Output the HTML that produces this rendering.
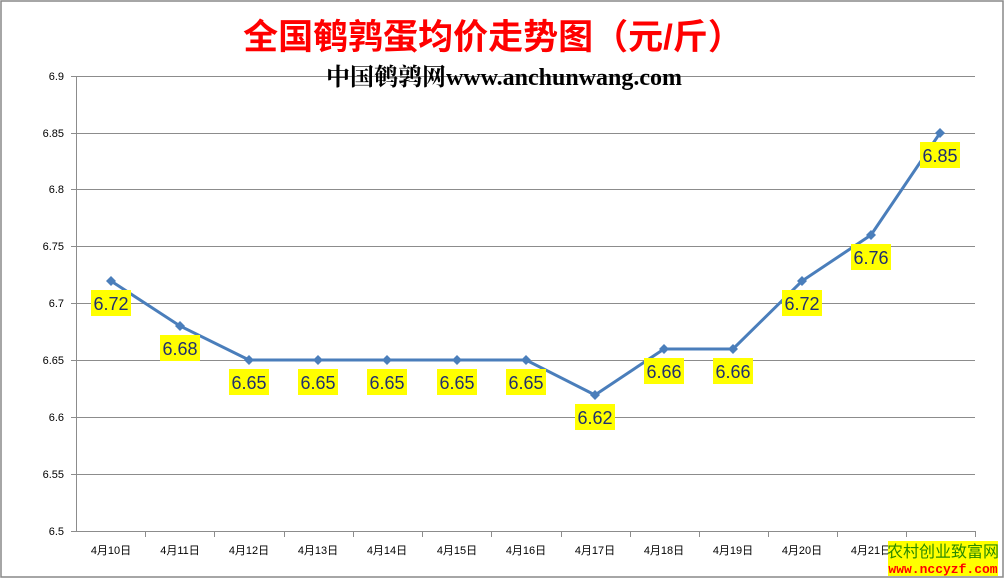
<!DOCTYPE html>
<html><head><meta charset="utf-8"><style>
body{margin:0;background:#fff}
svg{display:block}
</style></head><body>
<svg width="1005" height="579" xmlns="http://www.w3.org/2000/svg" font-family="Liberation Sans, Noto Sans CJK SC, sans-serif">
<rect x="1" y="1" width="1002" height="576" fill="#fff" stroke="#888" stroke-width="1.5"/>
<g stroke="#8c8c8c" stroke-width="1">
<line x1="76" y1="76.5" x2="975" y2="76.5"/>
<line x1="76" y1="133.5" x2="975" y2="133.5"/>
<line x1="76" y1="189.5" x2="975" y2="189.5"/>
<line x1="76" y1="246.5" x2="975" y2="246.5"/>
<line x1="76" y1="303.5" x2="975" y2="303.5"/>
<line x1="76" y1="360.5" x2="975" y2="360.5"/>
<line x1="76" y1="417.5" x2="975" y2="417.5"/>
<line x1="76" y1="474.5" x2="975" y2="474.5"/>
<line x1="76" y1="531.5" x2="975" y2="531.5"/>
<line x1="76.5" y1="76" x2="76.5" y2="531"/>
<line x1="71" y1="76.5" x2="76" y2="76.5"/><line x1="71" y1="133.5" x2="76" y2="133.5"/><line x1="71" y1="189.5" x2="76" y2="189.5"/><line x1="71" y1="246.5" x2="76" y2="246.5"/><line x1="71" y1="303.5" x2="76" y2="303.5"/><line x1="71" y1="360.5" x2="76" y2="360.5"/><line x1="71" y1="417.5" x2="76" y2="417.5"/><line x1="71" y1="474.5" x2="76" y2="474.5"/><line x1="71" y1="531.5" x2="76" y2="531.5"/>
</g>
<g stroke="#8c8c8c">
<line x1="145.5" y1="531" x2="145.5" y2="537"/><line x1="214.5" y1="531" x2="214.5" y2="537"/><line x1="284.5" y1="531" x2="284.5" y2="537"/><line x1="353.5" y1="531" x2="353.5" y2="537"/><line x1="422.5" y1="531" x2="422.5" y2="537"/><line x1="491.5" y1="531" x2="491.5" y2="537"/><line x1="561.5" y1="531" x2="561.5" y2="537"/><line x1="630.5" y1="531" x2="630.5" y2="537"/><line x1="699.5" y1="531" x2="699.5" y2="537"/><line x1="768.5" y1="531" x2="768.5" y2="537"/><line x1="837.5" y1="531" x2="837.5" y2="537"/><line x1="906.5" y1="531" x2="906.5" y2="537"/><line x1="975.5" y1="531" x2="975.5" y2="537"/>
</g>
<g font-size="11" fill="#000" text-anchor="end">
<text x="64" y="80">6.9</text><text x="64" y="137">6.85</text><text x="64" y="193">6.8</text><text x="64" y="250">6.75</text><text x="64" y="307">6.7</text><text x="64" y="364">6.65</text><text x="64" y="421">6.6</text><text x="64" y="478">6.55</text><text x="64" y="535">6.5</text>
</g>
<g font-size="11" fill="#000" text-anchor="middle">
<text x="111" y="554">4月10日</text><text x="180" y="554">4月11日</text><text x="249" y="554">4月12日</text><text x="318" y="554">4月13日</text><text x="387" y="554">4月14日</text><text x="457" y="554">4月15日</text><text x="526" y="554">4月16日</text><text x="595" y="554">4月17日</text><text x="664" y="554">4月18日</text><text x="733" y="554">4月19日</text><text x="802" y="554">4月20日</text><text x="871" y="554">4月21日</text>
</g>
<text x="493" y="49" font-size="35" font-weight="bold" fill="#ff0000" text-anchor="middle">全国鹌鹑蛋均价走势图（元/斤）</text>
<text x="504" y="85" font-size="24" font-weight="bold" fill="#000" text-anchor="middle" font-family="Liberation Serif, Noto Serif CJK SC, serif">中国鹌鹑网www.anchunwang.com</text>
<polyline fill="none" stroke="#4a7ebb" stroke-width="3" points="111,281 180,326 249,360 318,360 387,360 457,360 526,360 595,395 664,349 733,349 802,281 871,235 940,133"/>
<g fill="#4a7ebb">
<path d="M111,276l5,5l-5,5l-5,-5z"/><path d="M180,321l5,5l-5,5l-5,-5z"/><path d="M249,355l5,5l-5,5l-5,-5z"/><path d="M318,355l5,5l-5,5l-5,-5z"/><path d="M387,355l5,5l-5,5l-5,-5z"/><path d="M457,355l5,5l-5,5l-5,-5z"/><path d="M526,355l5,5l-5,5l-5,-5z"/><path d="M595,390l5,5l-5,5l-5,-5z"/><path d="M664,344l5,5l-5,5l-5,-5z"/><path d="M733,344l5,5l-5,5l-5,-5z"/><path d="M802,276l5,5l-5,5l-5,-5z"/><path d="M871,230l5,5l-5,5l-5,-5z"/><path d="M940,128l5,5l-5,5l-5,-5z"/>
</g>
<g fill="#ffff00">
<rect x="91" y="290" width="40" height="26"/><rect x="160" y="335" width="40" height="26"/><rect x="229" y="369" width="40" height="26"/><rect x="298" y="369" width="40" height="26"/><rect x="367" y="369" width="40" height="26"/><rect x="437" y="369" width="40" height="26"/><rect x="506" y="369" width="40" height="26"/><rect x="575" y="404" width="40" height="26"/><rect x="644" y="358" width="40" height="26"/><rect x="713" y="358" width="40" height="26"/><rect x="782" y="290" width="40" height="26"/><rect x="851" y="244" width="40" height="26"/><rect x="920" y="142" width="40" height="26"/>
</g>
<g font-size="18" fill="#1f2f6f" text-anchor="middle">
<text x="111" y="310">6.72</text><text x="180" y="355">6.68</text><text x="249" y="389">6.65</text><text x="318" y="389">6.65</text><text x="387" y="389">6.65</text><text x="457" y="389">6.65</text><text x="526" y="389">6.65</text><text x="595" y="424">6.62</text><text x="664" y="378">6.66</text><text x="733" y="378">6.66</text><text x="802" y="310">6.72</text><text x="871" y="264">6.76</text><text x="940" y="162">6.85</text>
</g>
<rect x="888" y="541" width="110" height="19" fill="#ffff00"/>
<text x="943" y="557" font-size="16" fill="#2a8a00" text-anchor="middle">农村创业致富网</text>
<rect x="888" y="560" width="110" height="16" fill="#ffff00"/>
<text x="943" y="573" font-size="13" font-weight="bold" fill="#ff0000" text-anchor="middle" font-family="Liberation Mono, monospace">www.nccyzf.com</text>
</svg>
</body></html>
